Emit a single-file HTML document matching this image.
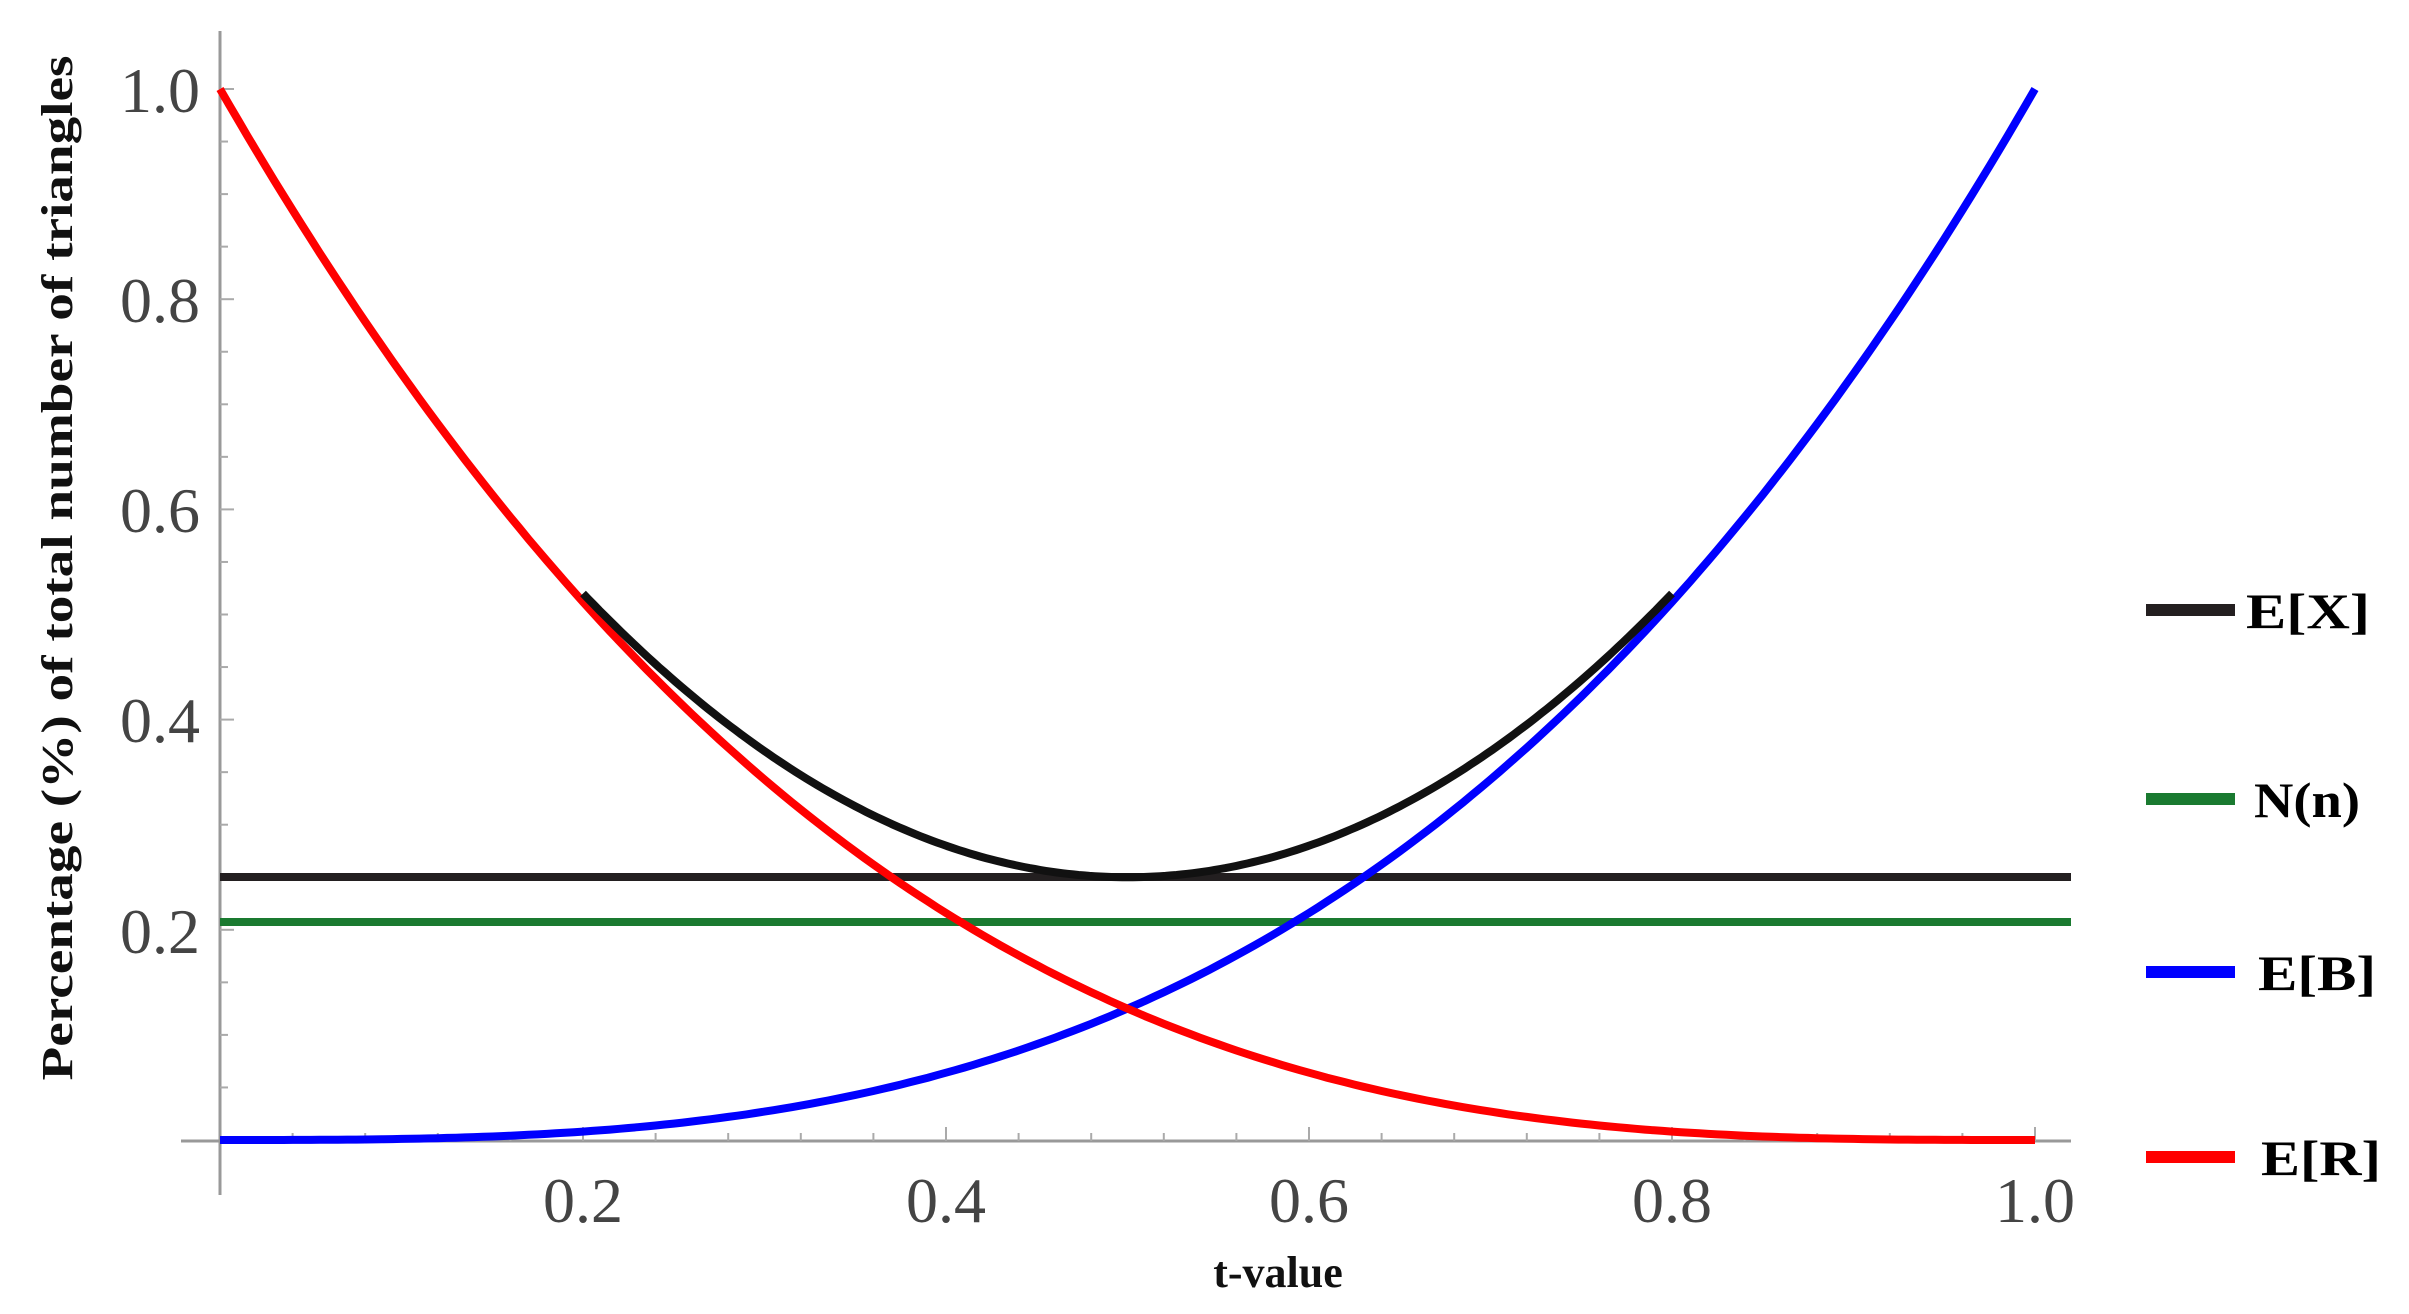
<!DOCTYPE html>
<html><head><meta charset="utf-8"><style>
html,body{margin:0;padding:0;background:#fff;}
svg{display:block;}
text{font-family:"Liberation Serif",serif;}
</style></head><body>
<svg id="s" width="2409" height="1314" viewBox="0 0 2409 1314" xmlns="http://www.w3.org/2000/svg">
<g stroke="#999" stroke-width="3">
<line x1="220" y1="31" x2="220" y2="1195"/>
<line x1="181" y1="1141" x2="2071" y2="1141"/>
</g>
<g id="ticks" stroke="#aaa" stroke-width="2"></g>
<g fill="#444" font-size="64" text-anchor="end">
<text x="200" y="112">1.0</text>
<text x="200" y="322">0.8</text>
<text x="200" y="532">0.6</text>
<text x="200" y="742">0.4</text>
<text x="200" y="953">0.2</text>
</g>
<g fill="#444" font-size="64" text-anchor="middle">
<text x="583" y="1222">0.2</text>
<text x="946" y="1222">0.4</text>
<text x="1309" y="1222">0.6</text>
<text x="1672" y="1222">0.8</text>
<text x="2035" y="1222">1.0</text>
</g>
<text x="1278" y="1287" font-size="44" font-weight="bold" text-anchor="middle" fill="#111">t-value</text>
<text transform="translate(72,568) rotate(-90)" font-size="44" font-weight="bold" text-anchor="middle" fill="#111" textLength="1025" lengthAdjust="spacingAndGlyphs">Percentage (%) of total number of triangles</text>
<line x1="220" y1="877" x2="2071" y2="877" stroke="#231f20" stroke-width="8"/>
<line x1="220" y1="922" x2="2071" y2="922" stroke="#1a7a30" stroke-width="8"/>
<path id="blue" fill="none" stroke="#0000ff" stroke-width="8"/>
<path id="red" fill="none" stroke="#ff0000" stroke-width="8"/>
<path id="black" fill="none" stroke="#111" stroke-width="8"/>
<g stroke-width="12">
<line x1="2146" y1="610" x2="2235" y2="610" stroke="#231f20"/>
<line x1="2146" y1="799" x2="2235" y2="799" stroke="#1a7a30"/>
<line x1="2146" y1="972" x2="2235" y2="972" stroke="#0000ff"/>
<line x1="2146" y1="1157" x2="2235" y2="1157" stroke="#ff0000"/>
</g>
<g font-size="50" font-weight="bold" fill="#000">
<text x="2246" y="628" textLength="124" lengthAdjust="spacingAndGlyphs">E[X]</text>
<text x="2254" y="817" textLength="106" lengthAdjust="spacingAndGlyphs">N(n)</text>
<text x="2258" y="990" textLength="118" lengthAdjust="spacingAndGlyphs">E[B]</text>
<text x="2261" y="1175" textLength="120" lengthAdjust="spacingAndGlyphs">E[R]</text>
</g>
</svg>
<script>
function X(t){return 220+t*1815}
function Y(v){return 1140-v*1051}
function path(f,a,b){var d="";for(var i=0;i<=200;i++){var t=a+(b-a)*i/200;d+=(i?"L":"M")+X(t).toFixed(1)+" "+Y(f(t)).toFixed(1)}return d}
document.getElementById("blue").setAttribute("d",path(function(t){return t*t*t},0,1));
document.getElementById("red").setAttribute("d",path(function(t){return Math.pow(1-t,3)},0,1));
document.getElementById("black").setAttribute("d",path(function(t){return t*t*t+Math.pow(1-t,3)},0.2,0.8));
var g=document.getElementById("ticks"),s="";
for(var i=1;i<=20;i++){var y=Y(i*0.05),l=(i%4==0)?14:8;s+='<line x1="220" y1="'+y+'" x2="'+(220+l)+'" y2="'+y+'"/>';}
for(var i=1;i<=25;i++){var x=X(i/25),l=(i%5==0)?14:8;s+='<line x1="'+x+'" y1="1141" x2="'+x+'" y2="'+(1141-l)+'"/>';}
g.innerHTML=s;
</script>
</body></html>
